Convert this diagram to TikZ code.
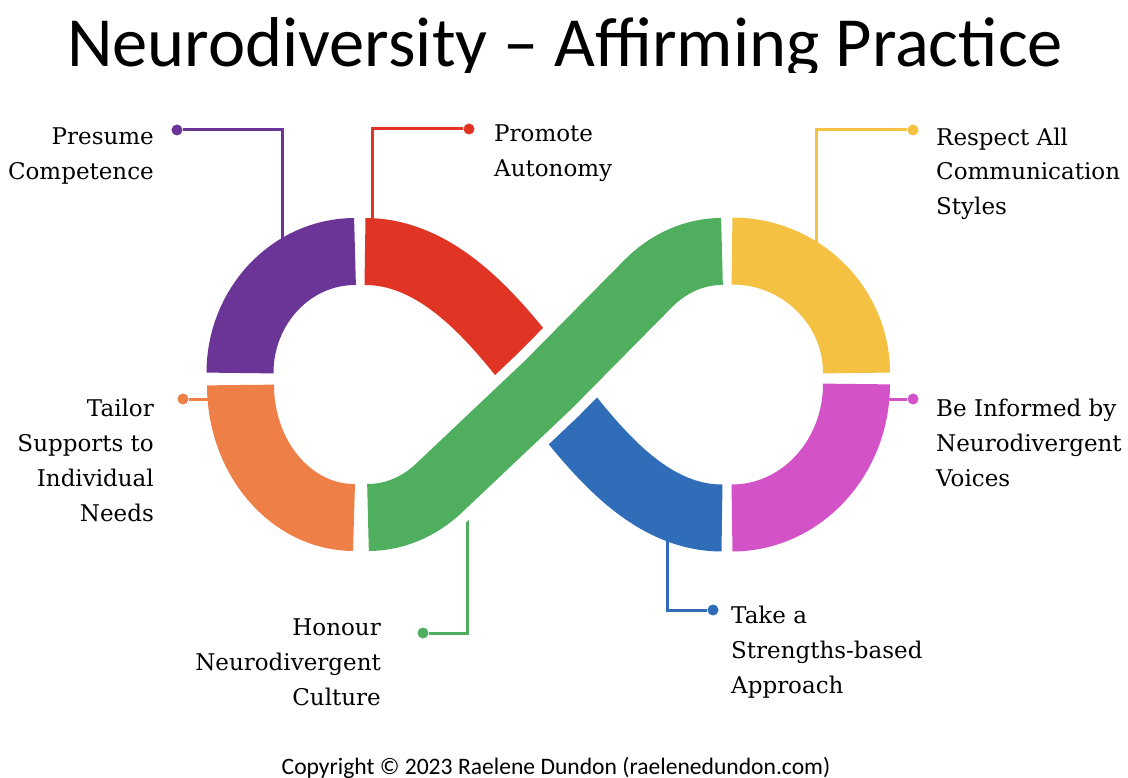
\documentclass[tikz,border=0pt]{standalone}
\usepackage{fontspec}
\setmainfont{DejaVu Serif}
\newfontfamily\headfont{Carlito}
\usetikzlibrary{positioning}

\definecolor{npurple}{HTML}{6B3597}
\definecolor{nred}{HTML}{E03424}
\definecolor{nyellow}{HTML}{F4C142}
\definecolor{norange}{HTML}{EE7F47}
\definecolor{ngreen}{HTML}{4FAF5F}
\definecolor{nblue}{HTML}{2F6DB8}
\definecolor{npink}{HTML}{D452C8}

\tikzset{
  % one thick piece of the loop
  band/.style = {
    draw = #1,
    line width = 67pt,
    line cap = butt
  },
  % white edge round the crossing piece
  gap band/.style = {
    draw = white,
    line width = 87pt,
    line cap = butt
  },
  % thin line from a piece to its text
  leader/.style = {
    draw = #1,
    line width = 3pt
  },
  % round end of a leader
  pin dot/.style = {
    circle,
    fill = #1,
    minimum size = 11pt,
    inner sep = 0
  },
  % text beside the loop (placed by its last line)
  label text/.style = {
    font = \fontsize{23}{35}\selectfont,
    inner sep = 0
  },
  lft/.style = {
    label text,
    align = right,
    anchor = base east
  },
  rgt/.style = {
    label text,
    align = left,
    anchor = base west
  }
}

% centre line of the crossing piece
\newcommand\crosspath{(368,517.5)
  arc[start angle=90, end angle=51.1, x radius=113, y radius=132.5]
  -- (548,385) -- (648.6,283.2)
  arc[start angle=229.5, end angle=270, x radius=113, y radius=132.5]}

\begin{document}
\begin{tikzpicture}[x=1pt, y=-1pt]
  \useasboundingbox[fill=white] (0,0) rectangle (1128,778);

  % heading, cut along the bottom
  \begin{scope}
    \clip (0,0) rectangle (1128,73);
    \node[font=\headfont\fontsize{70.5}{80}\selectfont, anchor=base] (title)
      at (565,67) {Neurodiversity – Affirming Practice};
  \end{scope}

  % leaders first, the bands cover their inner ends
  \node[pin dot=npurple] (presume dot) at (177,130) {};
  \node[pin dot=nred] (promote dot) at (469,129) {};
  \node[pin dot=nyellow] (respect dot) at (913,130) {};
  \node[pin dot=norange] (tailor dot) at (183,399) {};
  \node[pin dot=npink] (inform dot) at (913,399) {};
  \node[pin dot=nblue] (strength dot) at (713,610) {};
  \node[pin dot=ngreen] (honour dot) at (423,633) {};

  \coordinate (presume end) at (282,250);
  \coordinate (promote end) at (372,225);
  \coordinate (respect end) at (816,250);
  \coordinate (tailor end) at (215,399);
  \coordinate (inform end) at (883,399);
  \coordinate (strength end) at (667,525);
  \coordinate (honour end) at (467,505);

  \draw[leader=npurple] (presume dot) -| (presume end);
  \draw[leader=nred] (promote dot) -| (promote end);
  \draw[leader=nyellow] (respect dot) -| (respect end);
  \draw[leader=norange] (tailor dot) -- (tailor end);
  \draw[leader=npink] (inform dot) -- (inform end);
  \draw[leader=nblue] (strength end) |- (strength dot);
  \draw[leader=ngreen] (honour end) |- (honour dot);

  % left loop
  \draw[band=npurple] (355,251.5)
    arc[start angle=270, end angle=180, x radius=115, y radius=121.5];
  \draw[band=norange] (240.5,385)
    arc[start angle=180, end angle=90, x radius=113.5, y radius=132.5];
  \draw[band=nred] (365,251.5) .. controls (440,251.5) and (497,321) .. (545,385);

  % right loop
  \draw[band=nyellow] (732,251)
    arc[start angle=270, end angle=360, x radius=124.5, y radius=122];
  \draw[band=npink] (856.5,384)
    arc[start angle=0, end angle=90, x radius=124.5, y radius=134];
  \draw[band=nblue] (722,518) .. controls (647,518) and (593,448) .. (545,385);

  % crossing piece, its white edge cuts the red and blue ends
  \draw[gap band] \crosspath;
  \draw[band=ngreen] \crosspath;

  % texts
  \node[lft] (presume) at (154,180) {Presume\\Competence};
  \node[rgt] (promote) at (494,177) {Promote\\Autonomy};
  \node[rgt] (respect) at (936,215) {Respect All\\Communication\\Styles};
  \node[lft] (tailor) at (154,521) {Tailor\\Supports to\\Individual\\Needs};
  \node[rgt] (inform) at (936,486) {Be Informed by\\Neurodivergent\\Voices};
  \node[lft] (honour) at (381,705) {Honour\\Neurodivergent\\Culture};
  \node[rgt] (strength) at (731,693) {Take a\\Strengths-based\\Approach};

  \node[font=\headfont\fontsize{23.6}{26}\selectfont, anchor=base] (copyright)
    at (556,774) {Copyright © 2023 Raelene Dundon (raelenedundon.com)};
\end{tikzpicture}
\end{document}
